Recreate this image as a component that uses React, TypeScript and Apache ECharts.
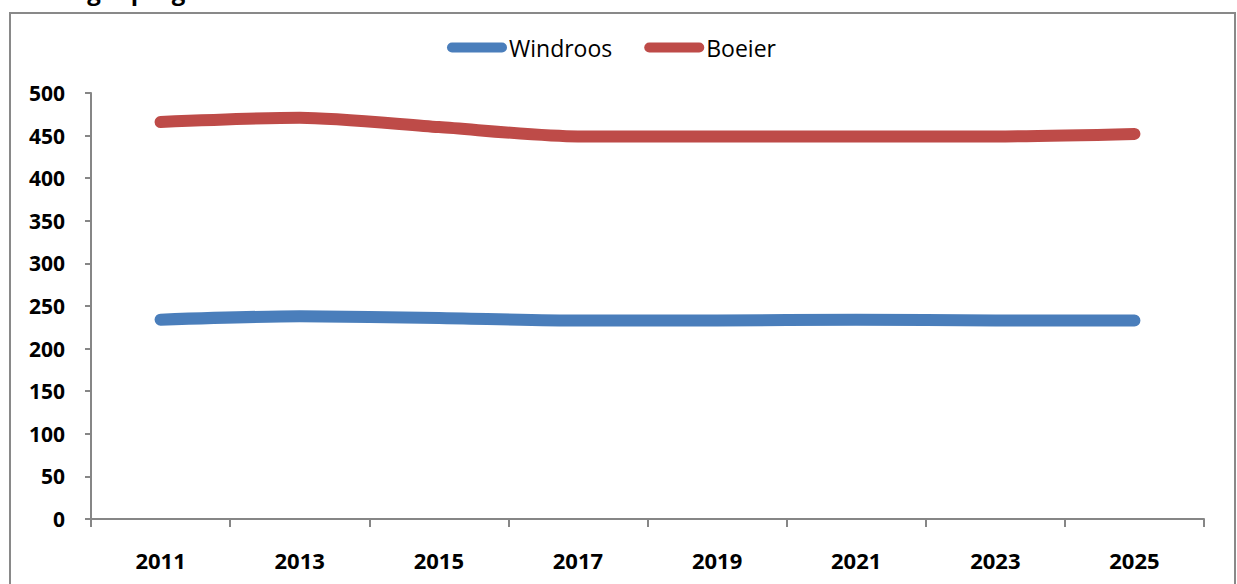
import React, { useEffect, useRef } from "react";
import * as echarts from "echarts";

const years = ["2011", "2013", "2015", "2017", "2019", "2021", "2023", "2025"];
const windroos = [234, 238, 236, 233, 233, 234, 233, 233];
const boeier = [466, 471, 460, 449, 449, 449, 449, 452];
const titleText = "Leerlingenprognose";

const FONT = "'Open Sans', 'Liberation Sans', sans-serif";
const capsule = "path://M5,0 L55,0 A5,5 0 0 1 55,10 L5,10 A5,5 0 0 1 5,0 Z";

export default function App() {
  const ref = useRef<HTMLDivElement>(null);
  useEffect(() => {
    if (!ref.current) return;
    const chart = echarts.init(ref.current, undefined, { renderer: "svg" });
    chart.setOption({
      animation: false,
      backgroundColor: "#ffffff",
      textStyle: { fontFamily: FONT },
      graphic: [
        {
          type: "rect",
          shape: { x: 10, y: 13, width: 1225, height: 600 },
          style: { fill: "none", stroke: "#898989", lineWidth: 2 },
          silent: true,
        },
        {
          type: "text",
          x: 4,
          y: -10,
          style: {
            text: titleText,
            font: `bold 24px ${FONT}`,
            fill: "#000",
            verticalAlign: "middle",
          },
        },
      ],
      legend: {
        left: 442,
        top: 31,
        itemWidth: 60,
        itemHeight: 10,
        itemGap: 32,
        icon: capsule,
        textStyle: { fontSize: 23, color: "#000", fontFamily: FONT, padding: [0, 0, 0, -3] },
        data: ["Windroos", "Boeier"],
      },
      grid: { left: 91, right: 33, top: 93, bottom: 65, containLabel: false },
      xAxis: {
        type: "category",
        data: years,
        boundaryGap: true,
        axisLine: { show: true, lineStyle: { color: "#868686", width: 2 } },
        axisTick: { show: true, length: 8, lineStyle: { color: "#868686", width: 2 } },
        axisLabel: { color: "#000", fontWeight: "bold", fontSize: 22, margin: 30, fontFamily: FONT },
        splitLine: { show: false },
      },
      yAxis: {
        type: "value",
        min: 0,
        max: 500,
        interval: 50,
        axisLine: { show: true, lineStyle: { color: "#868686", width: 2 } },
        axisTick: { show: true, length: 6, lineStyle: { color: "#868686", width: 2 } },
        axisLabel: { color: "#000", fontWeight: "bold", fontSize: 21, margin: 26, fontFamily: FONT },
        splitLine: { show: false },
      },
      series: [
        {
          name: "Windroos",
          type: "line",
          data: windroos,
          smooth: 0.25,
          showSymbol: false,
          symbol: "none",
          color: "#4A7EBB",
          lineStyle: { width: 12, color: "#4A7EBB", cap: "round", join: "round" },
        },
        {
          name: "Boeier",
          type: "line",
          data: boeier,
          smooth: 0.25,
          showSymbol: false,
          symbol: "none",
          color: "#BE4B48",
          lineStyle: { width: 12, color: "#BE4B48", cap: "round", join: "round" },
        },
      ],
    });
    return () => chart.dispose();
  }, []);
  return (
    <div
      ref={ref}
      style={{ position: "absolute", left: 0, top: 0, width: 1237, height: 584 }}
    />
  );
}
